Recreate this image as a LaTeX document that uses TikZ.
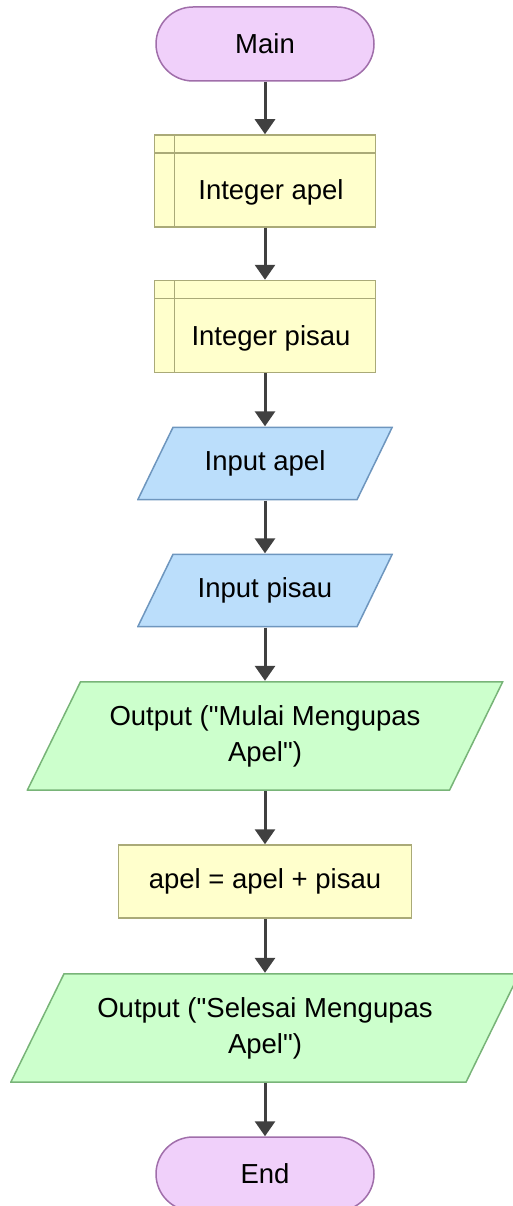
\documentclass[tikz,border=0pt]{standalone}
\usepackage{fontspec}
\setmainfont{Liberation Sans}[Ligatures=TeXReset]
\usetikzlibrary{arrows.meta}

\begin{document}
\begin{tikzpicture}[x=1pt, y=-1pt,
    every node/.style={font=\fontsize{27.5}{36}\selectfont, align=center, inner sep=0pt},
    flow/.style={draw=arrowgray, line width=3pt, -{Triangle[width=20pt,length=15pt]}},
    terminal/.style={draw=termline, fill=termfill, line width=1.5pt, rounded corners=37pt,
        minimum width=218pt, minimum height=74pt},
    process/.style={draw=declline, fill=declfill, line width=1.5pt,
        minimum width=293pt, minimum height=73pt},
    declare/.style={draw=declline, fill=declfill, line width=1.5pt,
        minimum width=221pt, minimum height=92pt,
        text height=40pt, text depth=2pt, execute at begin node={\hspace*{12pt}},
        path picture={
            \draw[declline, line width=1.5pt]
                ([xshift=20pt]path picture bounding box.north west) -- ([xshift=20pt]path picture bounding box.south west)
                ([yshift=-18pt]path picture bounding box.north west) -- ([yshift=-18pt]path picture bounding box.north east);
        }},
    para/.style n args={3}{
        path picture={
            \draw[draw=#2, fill=#3, line width=1.5pt]
                ([xshift=#1,yshift=-0.8pt]path picture bounding box.north west)
                -- ([xshift=-0.8pt,yshift=-0.8pt]path picture bounding box.north east)
                -- ([xshift=-#1,yshift=0.8pt]path picture bounding box.south east)
                -- ([xshift=0.8pt,yshift=0.8pt]path picture bounding box.south west) -- cycle;
        }},
    inputbox/.style={para={36pt}{inline}{infill}, minimum width=256pt, minimum height=74pt},
    outputbox/.style={para={54pt}{outline}{outfill}, minimum height=110pt}
]
    % Define flowchart colors
    \definecolor{arrowgray}{RGB}{64,64,64}
    \definecolor{termfill}{RGB}{240,208,250}
    \definecolor{termline}{RGB}{160,110,170}
    \definecolor{declfill}{RGB}{255,255,204}
    \definecolor{declline}{RGB}{170,170,120}
    \definecolor{infill}{RGB}{187,222,251}
    \definecolor{inline}{RGB}{110,150,190}
    \definecolor{outfill}{RGB}{204,255,204}
    \definecolor{outline}{RGB}{120,180,120}

    \useasboundingbox (0,0) rectangle (513,1206);

    % Steps
    \node[terminal] (main) at (265,44) {Main};
    \node[declare] (intapel) at (265,181) {Integer apel};
    \node[declare] (intpisau) at (265,326.5) {Integer pisau};
    \node[inputbox] (inapel) at (265,463.5) {Input apel};
    \node[inputbox] (inpisau) at (265,590.5) {Input pisau};
    \node[outputbox, minimum width=477pt] (outmulai) at (265,736) {Output ("Mulai Mengupas\\Apel")};
    \node[process] (hitung) at (265,881.5) {apel = apel + pisau};
    \node[outputbox, minimum width=510pt] (outselesai) at (265,1028) {Output ("Selesai Mengupas\\Apel")};
    \node[terminal] (stop) at (265,1174) {End};

    % Connectors
    \foreach \a/\b in {main/intapel, intapel/intpisau, intpisau/inapel, inapel/inpisau,
        inpisau/outmulai, outmulai/hitung, hitung/outselesai, outselesai/stop} {
        \draw[flow] (\a.south) -- (\b.north);
    }
\end{tikzpicture}
\end{document}
